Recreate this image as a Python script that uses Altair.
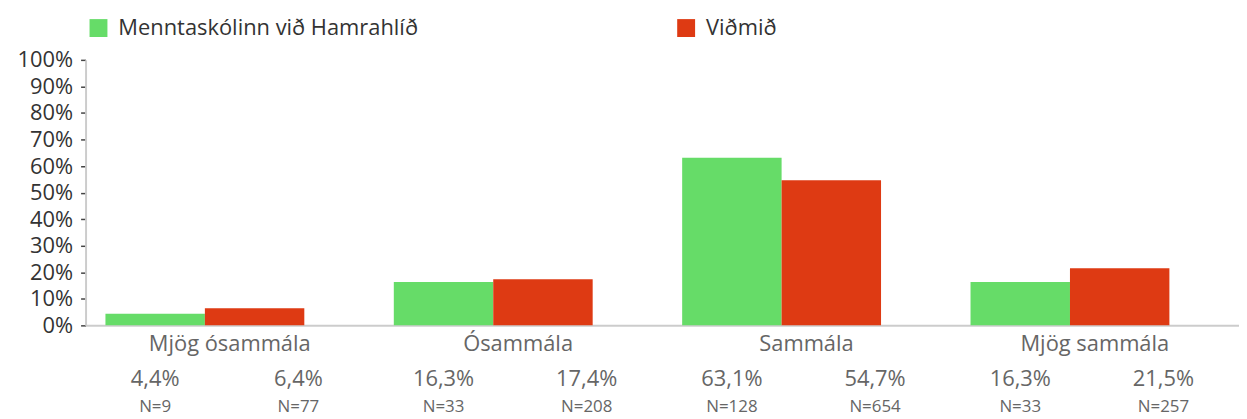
import altair as alt
import pandas as pd

categories = ["Mjög ósammála", "Ósammála", "Sammála", "Mjög sammála"]
series = ["Menntaskólinn við Hamrahlíð", "Viðmið"]
school_pct = [4.4, 16.3, 63.1, 16.3]
bench_pct = [6.4, 17.4, 54.7, 21.5]
school_n = [9, 33, 128, 33]
bench_n = [77, 208, 654, 257]
y_ticks = list(range(0, 101, 10))
colors = ["#66dc68", "#de3a13"]

rows = []
for i, c in enumerate(categories):
    for s, vals, ns in [(series[0], school_pct, school_n), (series[1], bench_pct, bench_n)]:
        v = vals[i]
        rows.append({
            "cat": c,
            "series": s,
            "value": v,
            "pct": f"{v:.1f}".replace(".", ",") + "%",
            "n": f"N={ns[i]}",
        })
df = pd.DataFrame(rows)

FONT = "Open Sans"
base = alt.Chart(df)

x_axis = alt.Axis(labelAngle=0, labelFontSize=22, labelColor="#666",
                  labelPadding=8, ticks=False, domainColor="#cccccc",
                  domainWidth=2, labelFont=FONT)
y_axis = alt.Axis(values=y_ticks, labelExpr="datum.value + '%'",
                  labelFontSize=22, labelColor="#333", labelFont=FONT,
                  labelOverlap=False, tickCount=len(y_ticks) + 5,
                  tickSize=5, tickColor="#444", tickWidth=1.5,
                  domainColor="#cccccc", domainWidth=2, grid=False,
                  labelPadding=8)
y_scale = alt.Scale(domain=[0, 100], nice=False)

bars = base.mark_bar().encode(
    x=alt.X("cat:N", sort=categories, title=None,
            scale=alt.Scale(paddingInner=0, paddingOuter=0), axis=x_axis),
    xOffset=alt.XOffset("series:N", sort=series,
                        scale=alt.Scale(range=[20, 220], paddingInner=0, paddingOuter=0)),
    y=alt.Y("value:Q", title=None, scale=y_scale, axis=y_axis),
    color=alt.Color("series:N", sort=series,
                    scale=alt.Scale(domain=series, range=colors),
                    legend=alt.Legend(title=None, orient="none", legendX=2, legendY=-43,
                                      direction="horizontal", columns=2, columnPadding=258,
                                      symbolType="square", symbolSize=324, symbolStrokeWidth=0,
                                      labelFontSize=22, labelColor="#333", labelFont=FONT,
                                      labelOffset=9, labelLimit=0)),
)

def label_layer(s, field, dx, dy, size):
    return base.transform_filter(alt.datum.series == s).mark_text(
        dx=dx, dy=dy, baseline="middle", align="center", fontSize=size,
        color="#666", font=FONT
    ).encode(
        x=alt.X("cat:N", sort=categories, title=None, axis=x_axis),
        y=alt.YDatum(0, scale=y_scale, axis=y_axis),
        text=f"{field}:N",
    )

chart = alt.layer(
    bars,
    label_layer(series[0], "pct", -75, 54, 22),
    label_layer(series[1], "pct", 69, 54, 22),
    label_layer(series[0], "n", -75, 82, 17),
    label_layer(series[1], "n", 69, 82, 17),
).properties(
    width=1160, height=267,
    padding={"left": 9, "top": 8, "right": 0, "bottom": 2},
).configure_view(stroke=None)

chart.save("out.html", embed_options={"renderer": "svg", "actions": False})
